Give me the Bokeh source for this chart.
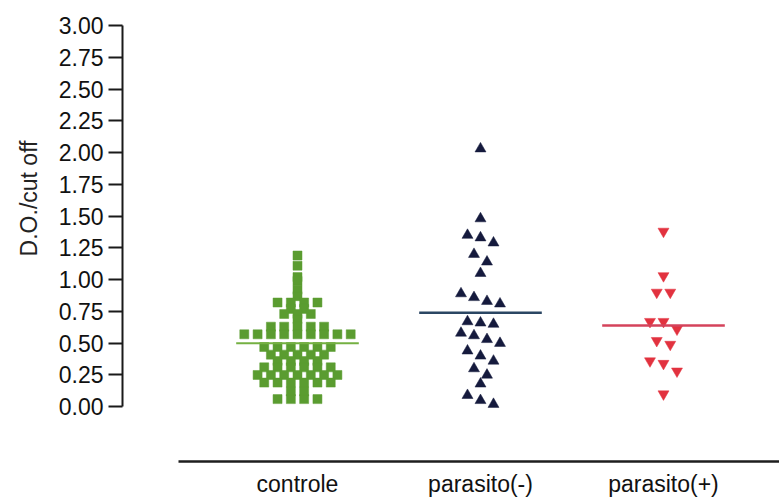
from bokeh.plotting import figure
from bokeh.models import Range1d, FixedTicker, PrintfTickFormatter, ColumnDataSource, Title
from bokeh.embed import file_html
from bokeh.resources import INLINE

# ---------------- data ----------------
groups = ["controle", "parasito(-)", "parasito(+)"]
group_pos = [1, 2, 3]

controle = ([1.19, 1.11, 1.02, 0.99, 0.92, 0.87]
            + [0.82] * 4 + [0.77] * 2 + [0.73] * 3 + [0.69]
            + [0.63] * 5 + [0.57] * 9 + [0.47] * 6 + [0.41] * 5
            + [0.36] * 4 + [0.31] * 6 + [0.25] * 7 + [0.19] * 6
            + [0.12] * 2 + [0.06] * 4)

parasito_neg = [2.03, 1.48, 1.35, 1.33, 1.29, 1.20, 1.14, 1.05, 0.89, 0.86,
                0.83, 0.81, 0.67, 0.66, 0.65, 0.58, 0.56, 0.53, 0.50, 0.44,
                0.40, 0.36, 0.30, 0.25, 0.18, 0.09, 0.05, 0.02]

parasito_pos = [1.38, 1.03, 0.90, 0.90, 0.67, 0.67, 0.61, 0.52, 0.49, 0.36,
                0.34, 0.28, 0.10]

line_values = [0.50, 0.74, 0.64]

y_ticks = [0.0, 0.25, 0.5, 0.75, 1.0, 1.25, 1.5, 1.75, 2.0, 2.25, 2.5, 2.75, 3.0]
y_title = "D.O./cut off"


# ---------------- layout helper: dot-plot rows ----------------
def row_offsets(vals, thresh, step):
    n = len(vals)
    order = sorted(range(n), key=lambda i: -vals[i])
    offs = [0.0] * n
    rows, row, start = [], [], None
    for i in order:
        if row and start - vals[i] > thresh:
            rows.append(row)
            row = []
        if not row:
            start = vals[i]
        row.append(i)
    if row:
        rows.append(row)
    for r in rows:
        k = len(r)
        for j, i in enumerate(r):
            offs[i] = (j - (k - 1) / 2.0) * step
    return offs


PX_X = 183.0  # pixels per x unit
c_off = row_offsets(controle, 0.03, 13.3 / PX_X)
n_off = row_offsets(parasito_neg, 0.085, 13.0 / PX_X)
p_off = row_offsets(parasito_pos, 0.085, 13.5 / PX_X)

src_c = ColumnDataSource(dict(x=[group_pos[0] + o for o in c_off], y=controle))
src_n = ColumnDataSource(dict(x=[group_pos[1] + o for o in n_off], y=parasito_neg))
src_p = ColumnDataSource(dict(x=[group_pos[2] + o for o in p_off], y=parasito_pos))

# ---------------- figure ----------------
p = figure(width=779, height=499, output_backend="svg", toolbar_location=None,
           title=None,
           x_range=Range1d(0.04372, 3.6339), y_range=Range1d(-0.4308, 3.0548),
           min_border_left=122, min_border_right=0, min_border_top=18,
           min_border_bottom=36)
p.outline_line_color = None
p.grid.visible = False
p.background_fill_color = "white"
p.border_fill_color = "white"

FONT = "Liberation Sans"

# y axis
ya = p.yaxis[0]
ya.bounds = (0, 3)
ya.ticker = FixedTicker(ticks=y_ticks)
ya.formatter = PrintfTickFormatter(format="%.2f")
ya.minor_tick_line_color = None
ya.major_tick_in = 0
ya.major_tick_out = 14
ya.major_tick_line_width = 2
ya.major_tick_line_color = "#1a1a1a"
ya.axis_line_width = 2
ya.axis_line_color = "#1a1a1a"
ya.major_label_standoff = 5
ya.major_label_text_font = FONT
ya.major_label_text_font_size = "23px"
ya.major_label_text_color = "#111111"

# y title in the left panel, aligned toward the top of the axis
p.add_layout(Title(text=y_title, align="right", offset=122, standoff=27,
                   text_font=FONT, text_font_size="23px",
                   text_font_style="normal", text_color="#222222"), "left")

# x axis
xa = p.xaxis[0]
xa.bounds = (0.3497, 3.6339)
xa.ticker = FixedTicker(ticks=group_pos)
xa.major_label_overrides = {g: t for g, t in zip(group_pos, groups)}
xa.minor_tick_line_color = None
xa.major_tick_line_color = None
xa.major_tick_in = 0
xa.major_tick_out = 0
xa.axis_line_width = 2.5
xa.axis_line_color = "#1e1e1e"
xa.major_label_standoff = 9
xa.major_label_text_font = FONT
xa.major_label_text_font_size = "23px"
xa.major_label_text_color = "#111111"

# points
p.scatter("x", "y", source=src_c, marker="square", size=9,
          fill_color="#5a9c30", line_color="#5a9c30", line_width=0.5)
p.scatter("x", "y", source=src_n, marker="triangle", size=11,
          fill_color="#151a3d", line_color="#151a3d", line_width=0.5)
p.scatter("x", "y", source=src_p, marker="inverted_triangle", size=11,
          fill_color="#e2323f", line_color="#e2323f", line_width=0.5)

# central lines
HW = 0.335
line_colors = ["#74b042", "#2b4663", "#d4435b"]
line_widths = [2, 2.5, 2.5]
for gx, v, col, lw in zip(group_pos, line_values, line_colors, line_widths):
    p.segment(x0=[gx - HW], y0=[v], x1=[gx + HW], y1=[v],
              line_color=col, line_width=lw)

open("out.html", "w").write(file_html(p, INLINE))
